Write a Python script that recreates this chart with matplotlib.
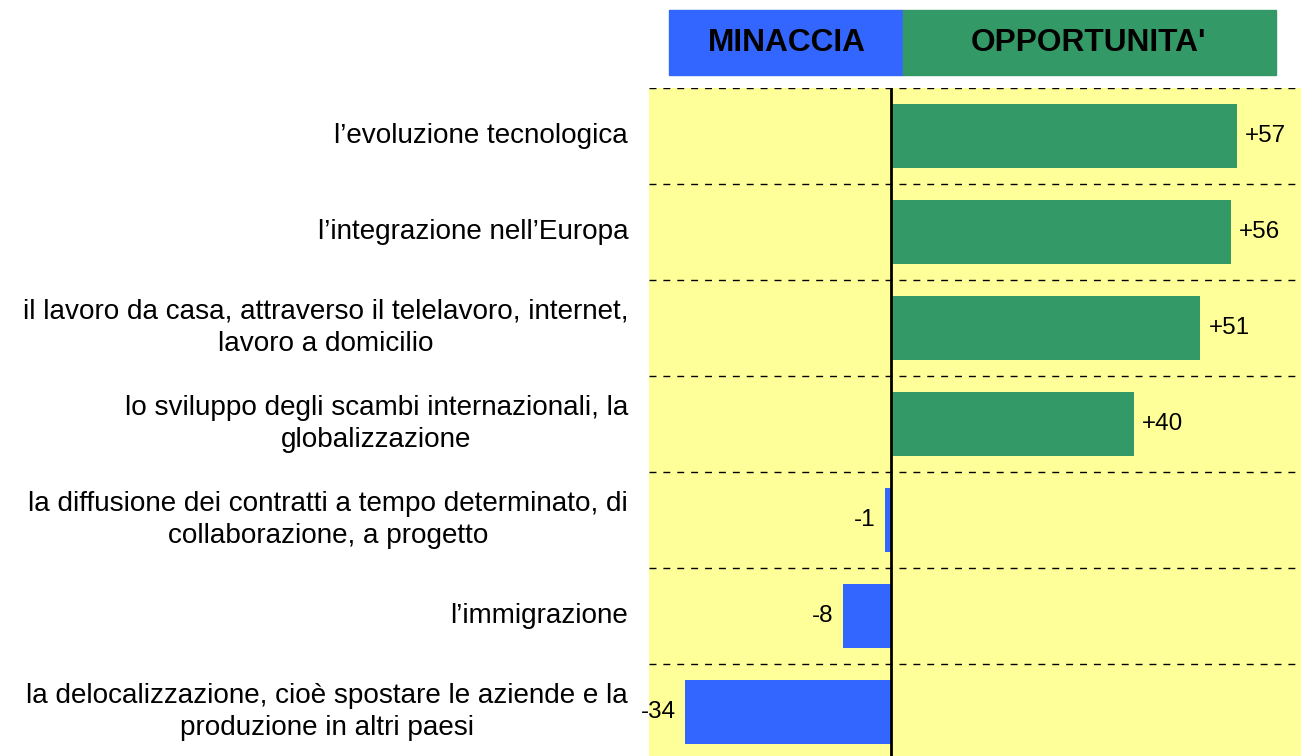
import matplotlib.pyplot as plt
from matplotlib.patches import Rectangle

categories = [
    "l\u2019evoluzione tecnologica",
    "l\u2019integrazione nell\u2019Europa",
    "il lavoro da casa, attraverso il telelavoro, internet,\nlavoro a domicilio",
    "lo sviluppo degli scambi internazionali, la\nglobalizzazione",
    "la diffusione dei contratti a tempo determinato, di\ncollaborazione, a progetto",
    "l\u2019immigrazione",
    "la delocalizzazione, cioè spostare le aziende e la\nproduzione in altri paesi",
]
values = [57, 56, 51, 40, -1, -8, -34]

green = '#339966'
blue = '#3366FF'
yellow = '#FFFF99'

plt.rcParams['font.family'] = ['Liberation Sans', 'DejaVu Sans']

fig = plt.figure(figsize=(13.01, 7.56), dpi=100)
ax = fig.add_axes([649 / 1301, 0, 652 / 1301, 668 / 756])
ax.set_facecolor(yellow)

pos = list(range(len(values)))
colors = [green if v > 0 else blue for v in values]
ax.barh(pos, values, height=0.667, color=colors, zorder=2)

# dashed separators between rows
for i in range(len(values)):
    ax.axhline(i - 0.5, color='black', lw=1, ls=(0, (5, 5)), zorder=1)
ax.axvline(0, color='black', lw=2, zorder=3)

ax.set_xlim(-40, 67.6)
ax.set_ylim(6.458, -0.5)
ax.set_xticks([])
ax.set_yticks([])
for s in ax.spines.values():
    s.set_visible(False)

for i, v in enumerate(values):
    txt = '%+d' % v
    if v > 0:
        ax.annotate(txt, (v, i), xytext=(6, 0), textcoords='offset points',
                    ha='left', va='center', fontsize=17.5)
    else:
        ax.annotate(txt, (v, i), xytext=(-7, 0), textcoords='offset points',
                    ha='right', va='center', fontsize=17.5)

for i, c in enumerate(categories):
    ax.text(-0.032, i, c, transform=ax.get_yaxis_transform(), ha='right',
            va='center', multialignment='center', fontsize=20.1, linespacing=1.33)

# header boxes
W, H = 1301, 756
fig.patches.append(Rectangle((669 / W, 1 - 75 / H), 234 / W, 65 / H,
                             transform=fig.transFigure, color=blue))
fig.patches.append(Rectangle((903 / W, 1 - 75 / H), 373 / W, 65 / H,
                             transform=fig.transFigure, color=green))
fig.text(787 / W, 1 - 43 / H, 'MINACCIA', ha='center', va='center',
         fontsize=22.8, fontweight='bold')
fig.text(1089 / W, 1 - 43 / H, "OPPORTUNITA'", ha='center', va='center',
         fontsize=22.8, fontweight='bold')

fig.savefig('out.png', dpi=100)
